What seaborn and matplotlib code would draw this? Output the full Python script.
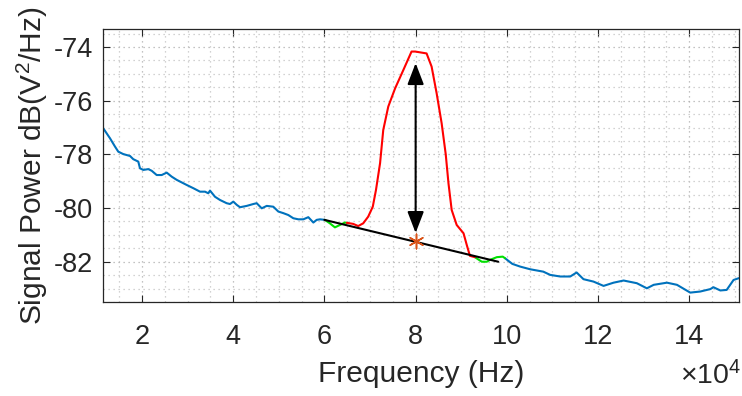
import pandas as pd
import seaborn as sns
import matplotlib.pyplot as plt
from matplotlib.ticker import MultipleLocator, FuncFormatter

# frequencies are given in units of 1e4 Hz, power in dB(V^2/Hz)
SCALE = 1e4

# noise floor left of the tone
blue_left_f = [1.151, 1.298, 1.408, 1.480, 1.590, 1.737, 1.809, 1.919, 1.956, 2.029,
               2.138, 2.212, 2.322, 2.432, 2.542, 2.651, 2.761, 2.980, 3.125, 3.272,
               3.382, 3.454, 3.491, 3.601, 3.711, 3.857, 3.930, 4.002, 4.077, 4.149,
               4.296, 4.441, 4.515, 4.625, 4.735, 4.879, 4.989, 5.099, 5.208, 5.318,
               5.428, 5.537, 5.647, 5.757, 5.831, 5.904, 6.01]
blue_left_p = [-77.03, -77.40, -77.71, -77.90, -77.99, -78.06, -78.18, -78.27, -78.52, -78.58,
               -78.55, -78.61, -78.77, -78.77, -78.68, -78.83, -78.95, -79.14, -79.26, -79.39,
               -79.39, -79.45, -79.35, -79.58, -79.70, -79.82, -79.85, -79.76, -79.88, -79.97,
               -79.92, -79.85, -79.82, -80.01, -79.92, -79.95, -80.13, -80.19, -80.26, -80.38,
               -80.42, -80.42, -80.34, -80.54, -80.44, -80.42, -80.44]

# noise floor right of the tone
blue_right_f = [9.96, 10.12, 10.29, 10.51, 10.80, 10.95, 11.17, 11.39, 11.53, 11.68,
                11.90, 12.12, 12.34, 12.56, 12.85, 13.07, 13.22, 13.51, 13.73, 14.02,
                14.24, 14.46, 14.53, 14.68, 14.82, 14.97, 15.09]
blue_right_p = [-81.87, -82.08, -82.18, -82.28, -82.37, -82.49, -82.55, -82.55, -82.40, -82.65,
                -82.74, -82.90, -82.78, -82.70, -82.80, -82.99, -82.86, -82.78, -82.86, -83.15,
                -83.11, -83.02, -82.95, -83.07, -83.05, -82.68, -82.61]

# neighbouring bins used for the noise estimate
green_left_f = [6.01, 6.12, 6.23, 6.34, 6.45, 6.49]
green_left_p = [-80.44, -80.57, -80.72, -80.63, -80.54, -80.55]
green_right_f = [9.30, 9.45, 9.56, 9.63, 9.78, 9.91, 9.96]
green_right_p = [-81.83, -82.00, -82.00, -81.93, -81.83, -81.81, -81.87]

# tone
red_f = [6.49, 6.63, 6.74, 6.85, 6.96, 7.06, 7.13, 7.22, 7.29, 7.40, 7.55, 7.73, 7.91,
         7.99, 8.24, 8.35, 8.46, 8.57, 8.66, 8.72, 8.79, 8.90, 9.05, 9.12, 9.19, 9.30]
red_p = [-80.55, -80.59, -80.67, -80.57, -80.32, -79.95, -79.33, -78.33, -77.09, -76.22,
         -75.54, -74.86, -74.17, -74.17, -74.24, -74.73, -75.72, -76.84, -78.00, -79.08,
         -80.07, -80.63, -80.94, -81.37, -81.78, -81.83]

# fitted noise line, noise at tone, tone peak
noise_line_f = [6.0, 9.81]
noise_line_p = [-80.44, -82.0]
tone_f = 8.0
noise_at_tone = -81.22
arrow_bottom = -80.93
arrow_top = -74.6

sns.set_style("ticks")
plt.rcParams["font.family"] = ["Liberation Sans", "DejaVu Sans"]
plt.rcParams["mathtext.fontset"] = "custom"
plt.rcParams["mathtext.rm"] = "Liberation Sans"
plt.rcParams["mathtext.it"] = "Liberation Sans"

fig = plt.figure(figsize=(7.42, 3.96), dpi=100)
ax = fig.add_axes([103 / 742, 1 - 302 / 396, 636 / 742, 273 / 396])

def seg(f, p, color):
    df = pd.DataFrame({"f": [v * SCALE for v in f], "p": p})
    sns.lineplot(data=df, x="f", y="p", color=color, lw=1.5, sort=False,
                 estimator=None, ax=ax)

seg(blue_left_f, blue_left_p, "#0072BD")
seg(blue_right_f, blue_right_p, "#0072BD")
seg(green_left_f, green_left_p, "#00E000")
seg(green_right_f, green_right_p, "#00E000")
seg(red_f, red_p, "#FF0000")
seg(noise_line_f, noise_line_p, "black")

sns.scatterplot(x=[tone_f * SCALE], y=[noise_at_tone], marker=(6, 2, 0), s=110,
                color="#D95319", linewidth=1.1, ax=ax, zorder=5)

ax.annotate("", xy=(tone_f * SCALE, arrow_top), xytext=(tone_f * SCALE, arrow_bottom),
            arrowprops=dict(arrowstyle="<|-|>,head_length=0.65,head_width=0.25",
                            mutation_scale=20, color="black", lw=1.5,
                            shrinkA=0, shrinkB=0))

ax.set_xlim(1.145 * SCALE, 15.09 * SCALE)
ax.set_ylim(-83.5, -73.33)
ax.xaxis.set_major_locator(MultipleLocator(2 * SCALE))
ax.xaxis.set_minor_locator(MultipleLocator(0.5 * SCALE))
ax.yaxis.set_major_locator(MultipleLocator(2))
ax.yaxis.set_minor_locator(MultipleLocator(0.5))
ax.xaxis.set_major_formatter(FuncFormatter(lambda v, _: f"{v / SCALE:g}"))
ax.yaxis.set_major_formatter(FuncFormatter(lambda v, _: f"{v:g}"))

ax.grid(which="major", ls=(0, (1, 3)), color="#b0b0b0", lw=0.9)
ax.grid(which="minor", ls=(0, (1, 3)), color="#c4c4c4", lw=0.9)
ax.tick_params(which="major", direction="in", length=5, width=0.8, top=True, right=True,
               labelsize=19.5, colors="#262626")
ax.tick_params(axis="x", which="major", pad=16)
ax.tick_params(axis="y", which="major", pad=7)
ax.tick_params(which="minor", length=0)
for s in ax.spines.values():
    s.set_color("#262626")
    s.set_linewidth(0.9)

ax.set_xlabel("Frequency (Hz)", fontsize=21.5, color="#262626", labelpad=7)
ax.set_ylabel("Signal Power dB(V$^2$/Hz)", fontsize=21.5, color="#262626", labelpad=3)
fig.text(0.999, 1 - 384 / 396, r"$\times10^4$", fontsize=20.5, color="#262626",
         ha="right", va="baseline")

fig.savefig("out.png", dpi=100)
